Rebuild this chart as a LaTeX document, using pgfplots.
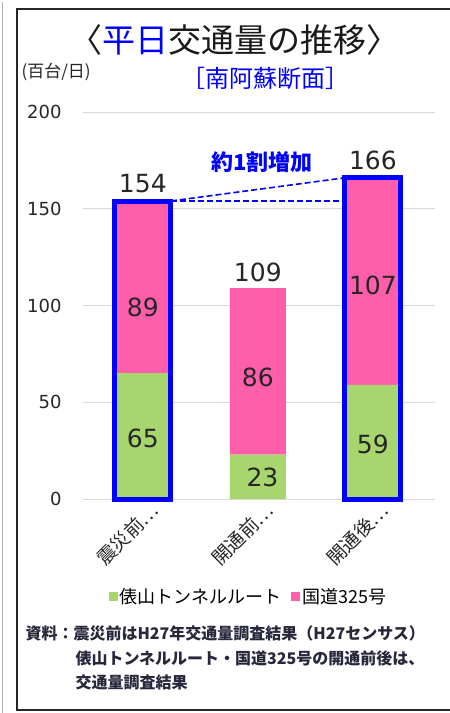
\documentclass[border=0pt]{standalone}
\usepackage{pgfplots}
\pgfplotsset{compat=1.18}
\usepackage{fontspec}
\setmainfont{DejaVu Sans}
\newfontfamily\jp{Noto Sans CJK JP}
\definecolor{pinkbar}{RGB}{255,95,170}
\definecolor{greenbar}{RGB}{168,214,110}
\definecolor{notecol}{RGB}{40,40,60}
\begin{document}
\begin{tikzpicture}
\useasboundingbox (0,0) rectangle (450bp,-713bp);
\fill[white] (0,0) rectangle (450bp,-713bp);
\draw[gray!60, line width=1.2bp] (2.5bp,-2bp) -- (2.5bp,-713bp);
\draw[black!85, line width=1.5bp] (470bp,-9bp) -- (17bp,-9bp) -- (17bp,-710bp) -- (470bp,-710bp);

% stacked bars
\begin{axis}[at={(83bp,-499bp)}, anchor=south west, scale only axis,
  width=352bp, height=387bp,
  xmin=-0.52, xmax=2.54, ymin=0, ymax=200,
  ybar stacked, bar width=56bp,
  axis line style={draw=none}, major tick length=0pt,
  ytick={0,50,...,200}, ymajorgrids, grid style={gray!30, line width=1bp},
  /pgf/number format/assume math mode=true,
  yticklabel style={font=\fontsize{18bp}{18bp}\selectfont, text=black!85, xshift=-18bp},
  xtick={0,1,2},
  xticklabels={震災前…,開通前…,開通後…},
  xticklabel style={font=\jp\fontsize{19bp}{19bp}\selectfont, text=black!85,
    rotate=45, anchor=north east, inner sep=1bp, xshift=4bp, yshift=-4bp},
  legend columns=2,
  legend style={draw=none, fill=none, at={(0.47,-0.253)}, anchor=center,
    font=\jp\fontsize{18bp}{18bp}\selectfont,
    /tikz/every even column/.append style={column sep=8bp}},
  legend image code/.code={\fill[#1, draw=none] (0bp,-4bp) rectangle (9bp,5bp);},
]
\addplot[fill=greenbar, draw=none] coordinates {(0,65) (1,23) (2,59)};
\addplot[fill=pinkbar, draw=none] coordinates {(0,89) (1,86) (2,107)};
\legend{俵山トンネルルート,国道325号}
\end{axis}

% outlines, comparison lines and labels
\begin{axis}[at={(83bp,-499bp)}, anchor=south west, scale only axis,
  width=352bp, height=387bp,
  xmin=-0.52, xmax=2.54, ymin=0, ymax=200,
  hide axis, clip=false]
\addplot[ybar, bar shift=0pt, bar width=56bp, draw=blue, line width=5bp, fill=none]
  coordinates {(0,154) (2,166)};
\addplot[blue, line width=1.6bp, dash pattern=on 6bp off 3bp]
  coordinates {(0.244,154) (1.756,166)};
\addplot[blue, line width=1.6bp, dash pattern=on 6bp off 3bp]
  coordinates {(0.244,154) (1.756,154)};
\addplot[only marks, mark=none, nodes near coords, point meta=explicit symbolic,
  nodes near coords style={anchor=center, text=black!85,
    font=\fontsize{25bp}{25bp}\selectfont}]
  coordinates {(0,31.5)[65] (0,99)[89] (0,163)[154]
               (1.04,11)[23] (1,63)[86] (1,117)[109]
               (2,28)[59] (2,110.5)[107] (2,175)[166]};
\end{axis}

\node[font=\jp\fontsize{33bp}{33bp}\selectfont, text=black!90] at (234bp,-40bp)
  {〈{\color{blue}平日}交通量の推移〉};
\node[font=\jp\fontsize{24bp}{24bp}\selectfont, text=blue] at (265bp,-78bp)
  {［南阿蘇断面］};
\node[font=\jp\fontsize{17bp}{17bp}\selectfont, text=black!85, anchor=west] at (18bp,-72bp)
  {(百台/日)};
\node[font=\jp\bfseries\fontsize{22bp}{22bp}\selectfont, text=blue] at (262bp,-162bp)
  {約1割増加};
\node[font=\jp\bfseries\fontsize{16bp}{16bp}\selectfont, text=notecol, anchor=west] at (22bp,-633bp)
  {資料：震災前はH27年交通量調査結果（H27センサス）};
\node[font=\jp\bfseries\fontsize{16bp}{16bp}\selectfont, text=notecol, anchor=west] at (72bp,-658bp)
  {俵山トンネルルート・国道325号の開通前後は、};
\node[font=\jp\bfseries\fontsize{16bp}{16bp}\selectfont, text=notecol, anchor=west] at (72bp,-682bp)
  {交通量調査結果};
\end{tikzpicture}
\end{document}
